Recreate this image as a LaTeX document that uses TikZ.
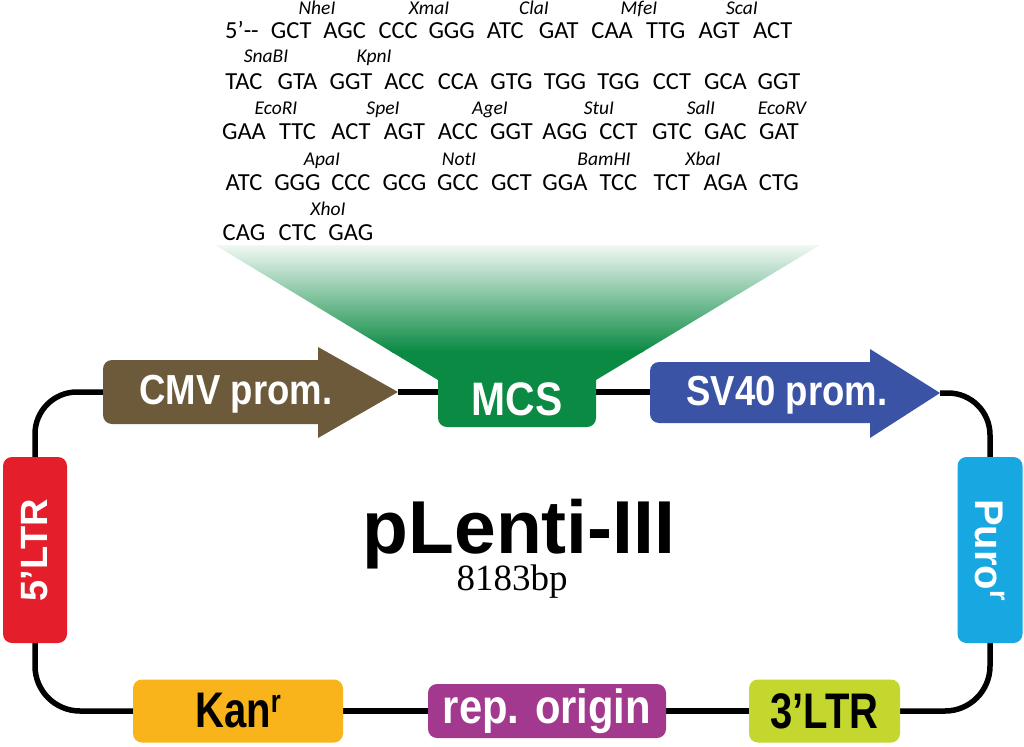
\documentclass[tikz,border=0pt]{standalone}
\usepackage{fontspec}
\setmainfont{Liberation Sans}
\newfontfamily\seqfont{Carlito}
\newfontfamily\narrowA[FakeStretch=0.8]{Liberation Sans}
\newfontfamily\narrowB[FakeStretch=0.87]{Liberation Sans}
\newfontfamily\numfont{Liberation Serif}
\usetikzlibrary{backgrounds}
\definecolor{cmvc}{HTML}{6D5A3A}
\definecolor{mcsg}{HTML}{0A8A43}
\definecolor{svc}{HTML}{3A53A4}
\definecolor{ltrred}{HTML}{E41E2B}
\definecolor{puroc}{HTML}{17A8E1}
\definecolor{kanc}{HTML}{F8B41A}
\definecolor{repc}{HTML}{A3398F}
\definecolor{lime}{HTML}{C3D72F}
\newcommand\cdn[1]{\makebox[53.5pt][c]{#1}}
\begin{document}
\begin{tikzpicture}[x=1pt,y=-1pt,
  bb/.style={line width=5.5pt},
  part/.style={rounded corners=9pt, inner sep=0pt},
  ptext/.style={font=\narrowB\bfseries\fontsize{42}{44}\selectfont, text=white, inner sep=0pt},
  codon/.style={font=\seqfont\fontsize{24.5}{26}\selectfont, anchor=base west, inner sep=0pt},
  enz/.style={font=\seqfont\itshape\fontsize{19.5}{20}\selectfont, anchor=base, inner sep=0pt},
]
\useasboundingbox (0,0) rectangle (1024,746);
\begin{scope}[on background layer]
\fill[white] (0,0) rectangle (1024,746);
\end{scope}

% ---------- sequence ----------
\node[codon] (row1) at (225,39) {\makebox[39.25pt][l]{5’--}\cdn{GCT}\cdn{AGC}\cdn{CCC}\cdn{GGG}\cdn{ATC}\cdn{GAT}\cdn{CAA}\cdn{TTG}\cdn{AGT}\cdn{ACT}};
\node[codon] (row2) at (217,90) {\cdn{TAC}\cdn{GTA}\cdn{GGT}\cdn{ACC}\cdn{CCA}\cdn{GTG}\cdn{TGG}\cdn{TGG}\cdn{CCT}\cdn{GCA}\cdn{GGT}};
\node[codon] (row3) at (217,140) {\cdn{GAA}\cdn{TTC}\cdn{ACT}\cdn{AGT}\cdn{ACC}\cdn{GGT}\cdn{AGG}\cdn{CCT}\cdn{GTC}\cdn{GAC}\cdn{GAT}};
\node[codon] (row4) at (217,190) {\cdn{ATC}\cdn{GGG}\cdn{CCC}\cdn{GCG}\cdn{GCC}\cdn{GCT}\cdn{GGA}\cdn{TCC}\cdn{TCT}\cdn{AGA}\cdn{CTG}};
\node[codon] (row5) at (217,240) {\cdn{CAG}\cdn{CTC}\cdn{GAG}};

\node[enz] (nhe) at (317,15) {NheI};
\node[enz] (xma) at (429,15) {XmaI};
\node[enz] (cla) at (534,15) {ClaI};
\node[enz] (mfe) at (639,15) {MfeI};
\node[enz] (sca) at (742,15) {ScaI};
\node[enz] (sna) at (266,63) {SnaBI};
\node[enz] (kpn) at (374,63) {KpnI};
\node[enz] (eco) at (276,115) {EcoRI};
\node[enz] (spe) at (383,115) {SpeI};
\node[enz] (age) at (490,115) {AgeI};
\node[enz] (stu) at (599,115) {StuI};
\node[enz] (sal) at (701,115) {SalI};
\node[enz] (ecv) at (782,115) {EcoRV};
\node[enz] (apa) at (322,165) {ApaI};
\node[enz] (not) at (459,165) {NotI};
\node[enz] (bam) at (604,165) {BamHI};
\node[enz] (xba) at (703,165) {XbaI};
\node[enz] (xho) at (328,215) {XhoI};

% ---------- MCS funnel ----------
\begin{scope}
\clip (215,245) -- (820,245) -- (596,380) -- (438,380) -- cycle;
\shade[top color=mcsg!6, middle color=mcsg!48, bottom color=mcsg] (200,245) rectangle (840,352);
\fill[mcsg] (200,351) rectangle (840,381);
\end{scope}
\node[part, fill=mcsg, minimum width=158pt, minimum height=57pt] (mcs) at (517,398.5) {};
\node[font=\narrowB\bfseries\fontsize{47}{49}\selectfont, text=white, anchor=base, inner sep=0pt] (mcstext) at (517,415) {MCS};

% ---------- promoter arrows ----------
\fill[cmvc, rounded corners=9pt] (103,360) rectangle (330,424);
\fill[cmvc] (318,347) -- (398,392) -- (318,438) -- cycle;
\coordinate (cmvtail) at (112,392);
\coordinate (cmvtip) at (398,392);
\node[ptext, anchor=base] (cmv) at (236,404) {CMV prom.};

\fill[svc, rounded corners=9pt] (650,362) rectangle (882,423);
\fill[svc] (870,349) -- (940,393) -- (870,438) -- cycle;
\coordinate (svtail) at (660,392);
\coordinate (svtip) at (940,393);
\node[ptext, anchor=base] (sv40) at (787,405) {SV40 prom.};

% ---------- side boxes ----------
\node[part, fill=ltrred, rotate=90, minimum width=186pt, minimum height=64pt,
      text=white, font=\bfseries\fontsize{38}{40}\selectfont] (ltr5) at (35,550) {5’LTR};
\node[part, fill=puroc, rotate=-90, minimum width=186pt, minimum height=65pt,
      text=white, font=\bfseries\fontsize{40}{42}\selectfont] (puro) at (990,550)
      {Puro\raisebox{0.36em}{\fontsize{27}{27}\selectfont r}};

% ---------- bottom boxes ----------
\node[part, fill=kanc, minimum width=210pt, minimum height=63pt,
      font=\narrowA\bfseries\fontsize{50}{52}\selectfont] (kan) at (238,711)
      {Kan\raisebox{0.3em}{\fontsize{32}{32}\selectfont r}};
\node[part, fill=repc, minimum width=238pt, minimum height=54pt, text=white,
      font=\narrowB\bfseries\fontsize{48}{50}\selectfont] (rep) at (547,711) {rep. origin};
\node[part, fill=lime, minimum width=151pt, minimum height=63pt,
      font=\narrowA\bfseries\fontsize{50}{52}\selectfont] (ltr3) at (824.5,711) {3’LTR};

% ---------- title ----------
\node[font=\bfseries\fontsize{75}{80}\selectfont, anchor=base, inner sep=0pt, text depth=0pt] (title) at (519,553) {pLenti-III};
\node[font=\numfont\fontsize{37}{40}\selectfont, anchor=base, inner sep=0pt] (size) at (512,590) {8183bp};

% ---------- backbone ----------
\begin{scope}[on background layer]
\draw[bb, rounded corners=42pt] (cmvtail) -| (ltr5.east);
\draw[bb, rounded corners=45pt] (ltr5.west) |- (kan.west);
\draw[bb] (kan.east) -- (rep.west);
\draw[bb] (rep.east) -- (ltr3.west);
\draw[bb, rounded corners=45pt] (ltr3.east) -| (puro.east);
\draw[bb, rounded corners=42pt] (svtip) -| (puro.west);
\draw[bb] (cmvtip) -- (cmvtip -| mcs.west);
\draw[bb] (mcs.east |- svtail) -- (svtail);
\end{scope}
\end{tikzpicture}
\end{document}
